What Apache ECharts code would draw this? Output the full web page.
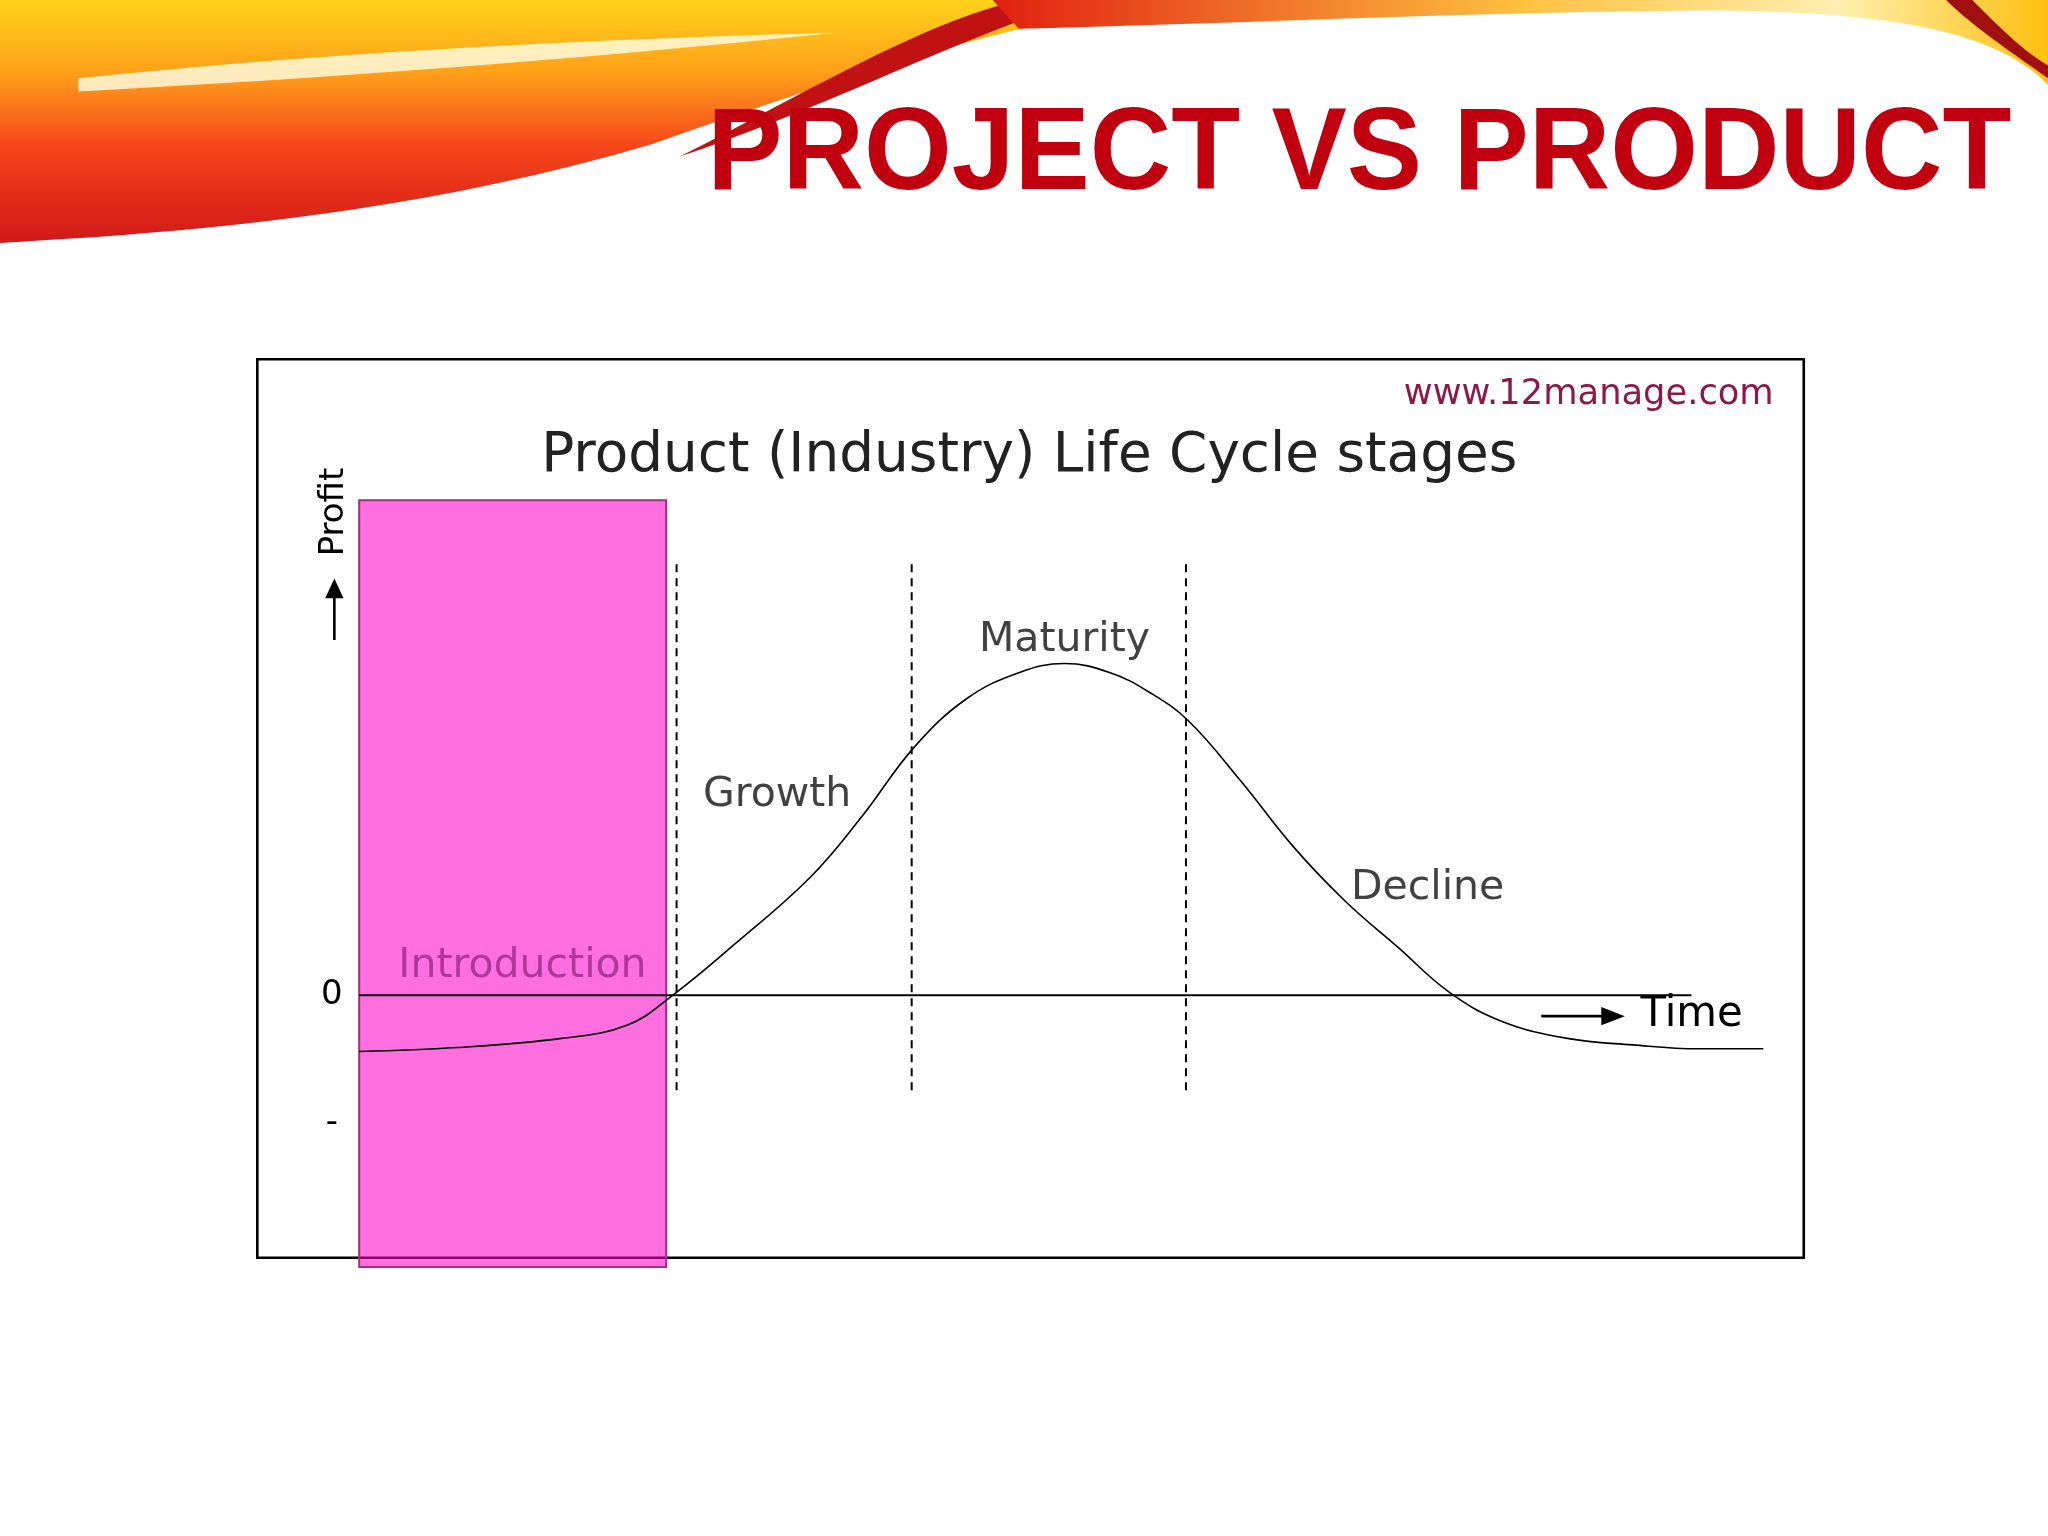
<!DOCTYPE html>
<html>
<head>
<meta charset="utf-8">
<style>html,body{margin:0;padding:0;background:#fff}#c{width:2048px;height:1536px}</style>
<script src="https://cdn.jsdelivr.net/npm/echarts@6/dist/echarts.min.js"></script>
</head>
<body>
<div id="c"></div>
<script>
// data (time in slide units, profit in units of 100 slide px)
var curveTime = [275, 350, 430, 480, 515, 560, 620, 660, 700, 740, 780, 815, 850, 880, 910, 950, 990, 1030, 1070, 1110, 1150, 1200, 1250, 1300, 1350];
var curveProfit = [-0.43, -0.4, -0.33, -0.23, 0, 0.37, 0.9, 1.37, 1.9, 2.27, 2.47, 2.54, 2.47, 2.32, 2.1, 1.64, 1.14, 0.72, 0.37, 0.02, -0.2, -0.33, -0.38, -0.41, -0.41];
var stageBounds = [518, 698, 908];
var stageNames = ['Introduction', 'Growth', 'Maturity', 'Decline'];
var stageLabelPos = [[400, 0.22], [595, 1.53], [815, 2.72], [1093, 0.82]];
var introArea = [275, 510];

var s = 2048 / 1568;
var chart = echarts.init(document.getElementById('c'));
var font = 'DejaVu Sans';

// turn "M x,y L x,y C ..." into polygon points
function shapePts(segs) {
  var pts = [], cur = null;
  segs.forEach(function (g) {
    if (g.length === 2) { pts.push(g); cur = g; return; }
    var p0 = cur, p1 = g[0], p2 = g[1], p3 = g[2];
    for (var t = 0.05; t <= 1.0001; t += 0.05) {
      var u = 1 - t;
      pts.push([u*u*u*p0[0] + 3*u*u*t*p1[0] + 3*u*t*t*p2[0] + t*t*t*p3[0],
                u*u*u*p0[1] + 3*u*u*t*p1[1] + 3*u*t*t*p2[1] + t*t*t*p3[1]]);
    }
    cur = p3;
  });
  return pts;
}

var dashed = stageBounds.map(function (x) {
  return {
    type: 'line', data: [[x, 3.3], [x, -0.76]], symbol: 'none', silent: true,
    lineStyle: { color: '#000', width: 2, type: [8, 6] }
  };
});

chart.setOption({
  animation: false,
  grid: { left: 275 * s, right: 2048 - 1350 * s, top: 382 * s, bottom: 1536 - 972 * s },
  xAxis: { type: 'value', min: 275, max: 1350, show: false },
  yAxis: { type: 'value', min: -2.1, max: 3.8, show: false },
  graphic: [
    { type: 'group', scaleX: s, scaleY: s, children: [
      { type: 'polygon', shape: { points: shapePts([[0, 0], [920, 0], [[800, 10], [700, 40], [500, 110]], [[300, 170], [100, 180], [0, 186]]]) },
        style: { fill: { type: 'linear', x: 0, y: 0, x2: 0, y2: 1, colorStops: [
          { offset: 0, color: '#ffd21a' }, { offset: 0.3, color: '#ffa01a' }, { offset: 0.6, color: '#f6461a' }, { offset: 1, color: '#d01818' }] } } },
      { type: 'polygon', shape: { points: shapePts([[60, 60], [[250, 40], [450, 30], [640, 25]], [[450, 45], [250, 60], [60, 70]]]) },
        style: { fill: 'rgba(255,255,230,0.8)' } },
      { type: 'polygon', shape: { points: shapePts([[520, 120], [[620, 70], [700, 20], [780, 0]], [830, 0], [[740, 25], [640, 80], [520, 120]]]) },
        style: { fill: '#c01212' } },
      { type: 'polygon', shape: { points: shapePts([[760, 0], [1568, 0], [1568, 65], [[1530, 25], [1450, 8], [1300, 8]], [[1100, 10], [950, 18], [780, 22]]]) },
        style: { fill: { type: 'linear', x: 0, y: 0, x2: 1, y2: 0, colorStops: [
          { offset: 0, color: '#e02010' }, { offset: 0.5, color: '#ffc040' }, { offset: 0.8, color: '#fff0b0' }, { offset: 1, color: '#ffc010' }] } } },
      { type: 'polygon', shape: { points: shapePts([[1490, 0], [1510, 0], [[1530, 20], [1550, 40], [1568, 50]], [1568, 60], [[1540, 40], [1510, 20], [1490, 0]]]) },
        style: { fill: '#a01010' } },
      { type: 'rect', shape: { x: 197, y: 275, width: 1184, height: 688 }, style: { fill: 'none', stroke: '#000', lineWidth: 2 } },
      { type: 'text', x: 1358, y: 302, style: { text: 'www.12manage.com', font: '27px ' + font, fill: '#8b1a4a', align: 'right', verticalAlign: 'middle' } },
      { type: 'text', x: 788, y: 350, style: { text: 'Product (Industry) Life Cycle stages', font: '42px ' + font, fill: '#222', align: 'center', verticalAlign: 'middle' } },
      { type: 'text', x: 256, y: 392, rotation: Math.PI / 2, style: { text: 'Profit', font: '26px ' + font, fill: '#000', align: 'center', verticalAlign: 'middle' } },
      { type: 'line', shape: { x1: 256, y1: 490, x2: 256, y2: 455 }, style: { stroke: '#000', lineWidth: 2 } },
      { type: 'polygon', shape: { points: [[256, 443], [249, 458], [263, 458]] }, style: { fill: '#000' } },
      { type: 'text', x: 254, y: 762, style: { text: '0', font: '26px ' + font, fill: '#000', align: 'center', verticalAlign: 'middle' } },
      { type: 'text', x: 254, y: 860, style: { text: '-', font: '26px ' + font, fill: '#000', align: 'center', verticalAlign: 'middle' } },
      { type: 'line', shape: { x1: 1180, y1: 778, x2: 1230, y2: 778 }, style: { stroke: '#000', lineWidth: 2 } },
      { type: 'polygon', shape: { points: [[1244, 778], [1226, 771], [1226, 785]] }, style: { fill: '#000' } },
      { type: 'text', x: 1256, y: 777, style: { text: 'Time', font: '32px ' + font, fill: '#000', verticalAlign: 'middle' } },
      { type: 'text', x: 1540, y: 120, scaleX: 0.96, style: { text: 'PROJECT VS PRODUCT', font: 'bold 90px "Liberation Sans"', fill: '#c0000e', align: 'right', verticalAlign: 'middle' } }
    ] }
  ],
  series: [
    { type: 'line', data: curveTime.map(function (t, i) { return [t, curveProfit[i]]; }), smooth: 0.4, symbol: 'none',
      lineStyle: { color: '#000', width: 1.6 } },
    { type: 'line', data: [[275, 0], [1295, 0]], symbol: 'none', lineStyle: { color: '#000', width: 2 } },
    { type: 'scatter', symbolSize: 0, z: 5, data: stageNames.map(function (n, i) {
        return { value: stageLabelPos[i], name: n, label: { color: i === 0 ? '#9a2a8a' : '#111' } }; }),
      label: { show: true, position: 'inside', formatter: '{b}', fontFamily: font, fontSize: 41 } },
    { type: 'line', data: [], z: 10, markArea: { silent: true,
      itemStyle: { color: 'rgba(255,0,200,0.565)', borderColor: '#a0307a', borderWidth: 2 },
      data: [[{ coord: [introArea[0], 3.79] }, { coord: [introArea[1], -2.08] }]] } }
  ].concat(dashed)
});
</script>
</body>
</html>
